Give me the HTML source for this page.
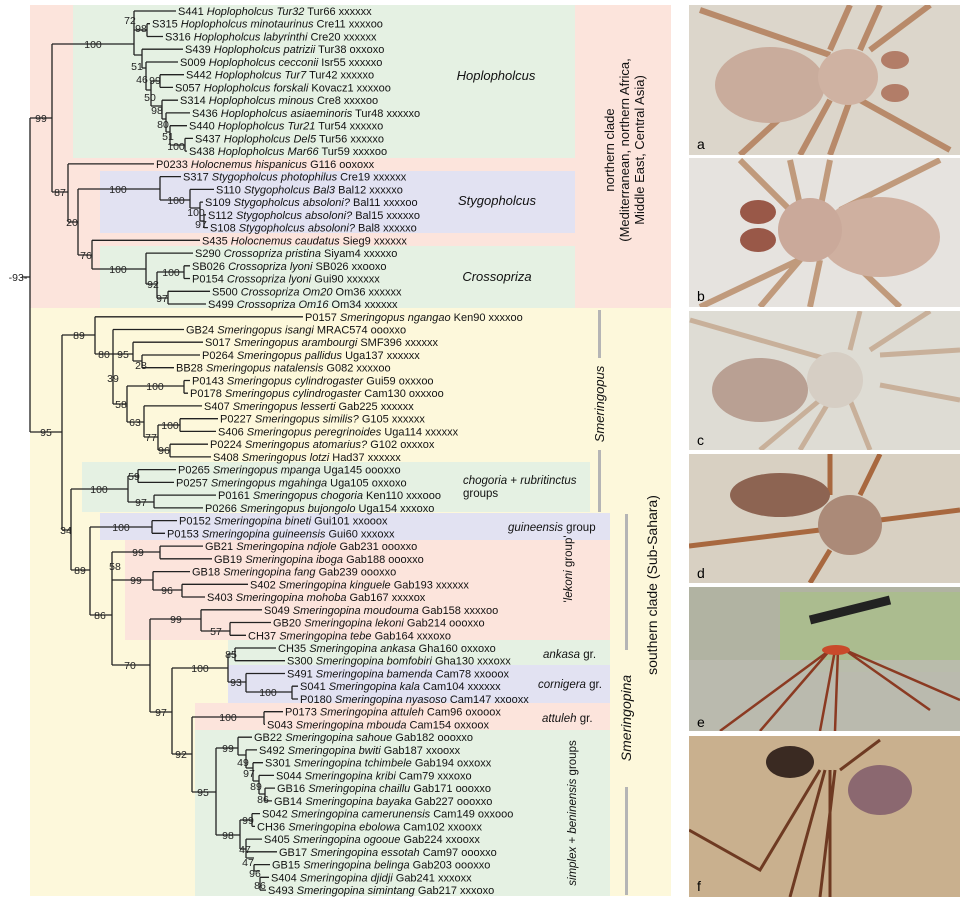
<!DOCTYPE html>
<html><head><meta charset="utf-8"><style>
html,body{margin:0;padding:0;background:#fff}
svg{display:block}
text{font-family:"Liberation Sans",Arial,sans-serif}
.t{font-size:11px;fill:#111}
.n{font-size:10.5px;fill:#222;text-anchor:middle}
.l{stroke:#222;stroke-width:1.3;fill:none}
</style></head><body>
<svg width="960" height="902" viewBox="0 0 960 902" xmlns="http://www.w3.org/2000/svg">
<!-- backgrounds -->
<rect x="30" y="5" width="641" height="303" fill="#fce4dc"/>
<rect x="73" y="5" width="502" height="153" fill="#e5f1e3"/>
<rect x="100" y="171" width="475" height="62" fill="#e2e2f2"/>
<rect x="100" y="246" width="475" height="62" fill="#e5f1e3"/>
<rect x="30" y="308" width="641" height="588" fill="#fdf8db"/>
<rect x="82" y="462" width="508" height="50" fill="#e5f1e3"/>
<rect x="100" y="513" width="510" height="27" fill="#e2e2f2"/>
<rect x="125" y="540" width="485" height="100" fill="#fce4dc"/>
<rect x="228" y="640" width="382" height="25" fill="#e5f1e3"/>
<rect x="228" y="665" width="382" height="38" fill="#e2e2f2"/>
<rect x="195" y="703" width="415" height="27" fill="#fce4dc"/>
<rect x="195" y="730" width="415" height="166" fill="#e5f1e3"/>
<!-- gray bars -->
<rect x="598" y="310" width="3" height="48" fill="#b5b5b5"/>
<rect x="598" y="450" width="3" height="62" fill="#b5b5b5"/>
<rect x="625" y="514" width="3" height="136" fill="#b5b5b5"/>
<rect x="625" y="787" width="3" height="108" fill="#b5b5b5"/>

<!-- tree lines -->
<path class="l" d="
M30 118V432 M22 277H30
M30 118H52 M52 44V192 M52 44H134
M134 11V55 M134 11H176 M134 30H147 M134 55H142
M147 23.7V36.5 M147 23.7H150 M147 36.5H163
M142 49.2V68 M142 49.2H183 M142 68H146
M146 62V90 M146 62H178 M146 90H151
M151 81V106 M151 81H160 M151 106H162
M160 74.7V87.4 M160 74.7H184 M160 87.4H173
M162 100.2V119 M162 100.2H178 M162 119H166
M166 112.9V132 M166 112.9H190 M166 132H170
M170 125.7V145 M170 125.7H187 M170 145H185
M185 138.4V151.1 M185 138.4H193 M185 151.1H187
M52 192H68 M68 164V222 M68 163.9H154 M68 222H78
M78 189V255 M78 189H160
M160 176.6V200 M160 176.6H181 M160 200H190
M190 189.4V208 M190 189.4H214 M190 208H200
M200 202.1V221 M200 202.1H203 M200 221H204
M204 214.8V227.6 M204 214.8H206 M204 227.6H208
M78 255H92 M92 240.3V269 M92 240.3H200 M92 269H146
M146 253.1V284 M146 253.1H193 M146 284H157
M157 272V298 M157 272H184 M157 298H168
M184 265.8V278.5 M184 265.8H190 M184 278.5H190
M168 291.3V304 M168 291.3H210 M168 304H206
M30 432H62 M62 335V530
M62 335H95 M95 316.8V354 M95 316.8H303 M95 354H113
M113 329.5V404 M113 329.5H184 M113 354H133
M133 342.2V361 M133 342.2H203 M133 361H142
M142 355V367.7 M142 355H200 M142 367.7H174
M113 404H127 M127 386V422 M127 386H184
M184 380.5V393.2 M184 380.5H190 M184 393.2H188
M127 422H144 M144 405.9V437 M144 405.9H202 M144 437H158
M158 425V450 M158 425H180 M180 418.7V431.4 M180 418.7H218 M180 431.4H216
M158 450H170 M170 444.2V456.9 M170 444.2H208 M170 456.9H211
M62 530H71 M71 489V570
M71 489H128 M128 476V502 M128 476H138
M138 469.6V482.4 M138 469.6H176 M138 482.4H174
M128 502H154 M154 495.1V507.9 M154 495.1H216 M154 507.9H203
M71 570H90 M90 527V615
M90 527H152 M152 520.6V533.3 M152 520.6H177 M152 533.3H165
M90 615H112 M112 552V665
M112 552H160 M160 546.1V558.8 M160 546.1H203 M160 558.8H212
M112 580H153 M153 571.6V590 M153 571.6H190 M153 590H182
M182 584.3V597 M182 584.3H248 M182 597H205
M112 665H150 M150 619V712
M150 619H201 M201 609.8V631 M201 609.8H262 M201 631H230
M230 622.5V635.3 M230 622.5H271 M230 635.3H246
M150 712H172 M172 668V754
M172 668H228 M228 654V682 M228 654H235
M235 648V660.7 M235 648H276 M235 660.7H285
M228 682H246 M246 673.5V692 M246 673.5H285 M246 692H292
M292 686.2V699 M292 686.2H298 M292 699H298
M172 754H192 M192 717V792
M192 717H264 M264 711.7V724.4 M264 711.7H283 M264 724.4H265
M192 792H216 M216 748V835
M216 748H238 M238 737.2V755 M238 737.2H252 M238 755H246
M246 749.9V768 M246 749.9H257 M246 768H253
M253 762.7V781 M253 762.7H263 M253 781H259
M259 775.4V794 M259 775.4H274 M259 794H265
M265 788.1V800.9 M265 788.1H275 M265 800.9H272
M216 835H240 M240 820V849
M240 820H252 M252 813.6V826.4 M252 813.6H260 M252 826.4H255
M240 849H246 M246 839.1V858 M246 839.1H262 M246 851.8H277 M246 858H254
M254 864.6V871 M254 864.6H270 M254 871H260
M260 877.3V890.1 M260 877.3H269 M260 890.1H266
"/>

<!-- node labels -->
<g class="n">
<text x="18" y="281">-93-</text>
<text x="41" y="122">99</text>
<text x="93" y="48">100</text>
<text x="130" y="24">72</text>
<text x="141" y="32">98</text>
<text x="137" y="70">51</text>
<text x="142" y="83">46</text>
<text x="155" y="84">99</text>
<text x="150" y="101">50</text>
<text x="157" y="114">98</text>
<text x="163" y="128">80</text>
<text x="168" y="140">51</text>
<text x="176" y="150">100</text>
<text x="60" y="196">87</text>
<text x="72" y="226">20</text>
<text x="118" y="193">100</text>
<text x="176" y="204">100</text>
<text x="196" y="216">100</text>
<text x="201" y="228">97</text>
<text x="86" y="259">76</text>
<text x="118" y="273">100</text>
<text x="153" y="288">92</text>
<text x="171" y="276">100</text>
<text x="162" y="302">97</text>
<text x="46" y="436">95</text>
<text x="79" y="339">89</text>
<text x="104" y="358">80</text>
<text x="123" y="358">95</text>
<text x="141" y="369">28</text>
<text x="113" y="382">39</text>
<text x="121" y="408">58</text>
<text x="155" y="390">100</text>
<text x="135" y="426">63</text>
<text x="151" y="441">77</text>
<text x="170" y="429">100</text>
<text x="164" y="454">96</text>
<text x="66" y="534">34</text>
<text x="99" y="493">100</text>
<text x="134" y="480">59</text>
<text x="141" y="506">97</text>
<text x="80" y="574">89</text>
<text x="121" y="531">100</text>
<text x="100" y="619">86</text>
<text x="115" y="570">58</text>
<text x="138" y="556">99</text>
<text x="136" y="584">99</text>
<text x="167" y="594">96</text>
<text x="130" y="669">70</text>
<text x="176" y="623">99</text>
<text x="216" y="635">57</text>
<text x="161" y="716">97</text>
<text x="200" y="672">100</text>
<text x="231" y="658">85</text>
<text x="236" y="686">93</text>
<text x="268" y="696">100</text>
<text x="181" y="758">92</text>
<text x="228" y="721">100</text>
<text x="203" y="796">95</text>
<text x="228" y="752">99</text>
<text x="243" y="766">49</text>
<text x="249" y="777">97</text>
<text x="256" y="790">89</text>
<text x="263" y="803">86</text>
<text x="228" y="839">98</text>
<text x="248" y="824">99</text>
<text x="245" y="853">47</text>
<text x="248" y="866">47</text>
<text x="255" y="877">96</text>
<text x="260" y="889">86</text>
</g>

<!-- tips -->
<g class="t">
<text x="178" y="15">S441 <tspan font-style="italic">Hoplopholcus Tur32</tspan> Tur66 xxxxxx</text>
<text x="152" y="27.7">S315 <tspan font-style="italic">Hoplopholcus minotaurinus</tspan> Cre11 xxxxoo</text>
<text x="165" y="40.5">S316 <tspan font-style="italic">Hoplopholcus labyrinthi</tspan> Cre20 xxxxxx</text>
<text x="185" y="53.2">S439 <tspan font-style="italic">Hoplopholcus patrizii</tspan> Tur38 oxxoxo</text>
<text x="180" y="66">S009 <tspan font-style="italic">Hoplopholcus cecconii</tspan> Isr55 xxxxxo</text>
<text x="186" y="78.7">S442 <tspan font-style="italic">Hoplopholcus Tur7</tspan> Tur42 xxxxxo</text>
<text x="175" y="91.4">S057 <tspan font-style="italic">Hoplopholcus forskali</tspan> Kovacz1 xxxxoo</text>
<text x="180" y="104.2">S314 <tspan font-style="italic">Hoplopholcus minous</tspan> Cre8 xxxxoo</text>
<text x="192" y="116.9">S436 <tspan font-style="italic">Hoplopholcus asiaeminoris</tspan> Tur48 xxxxxo</text>
<text x="189" y="129.7">S440 <tspan font-style="italic">Hoplopholcus Tur21</tspan> Tur54 xxxxxo</text>
<text x="195" y="142.4">S437 <tspan font-style="italic">Hoplopholcus Del5</tspan> Tur56 xxxxxo</text>
<text x="189" y="155.1">S438 <tspan font-style="italic">Hoplopholcus Mar66</tspan> Tur59 xxxxoo</text>
<text x="156" y="167.9">P0233 <tspan font-style="italic">Holocnemus hispanicus</tspan> G116 ooxoxx</text>
<text x="183" y="180.6">S317 <tspan font-style="italic">Stygopholcus photophilus</tspan> Cre19 xxxxxx</text>
<text x="216" y="193.4">S110 <tspan font-style="italic">Stygopholcus Bal3</tspan> Bal12 xxxxxo</text>
<text x="205" y="206.1">S109 <tspan font-style="italic">Stygopholcus absoloni?</tspan> Bal11 xxxxoo</text>
<text x="208" y="218.8">S112 <tspan font-style="italic">Stygopholcus absoloni?</tspan> Bal15 xxxxxo</text>
<text x="210" y="231.6">S108 <tspan font-style="italic">Stygopholcus absoloni?</tspan> Bal8 xxxxxo</text>
<text x="202" y="244.3">S435 <tspan font-style="italic">Holocnemus caudatus</tspan> Sieg9 xxxxxx</text>
<text x="195" y="257.1">S290 <tspan font-style="italic">Crossopriza pristina</tspan> Siyam4 xxxxxo</text>
<text x="192" y="269.8">SB026 <tspan font-style="italic">Crossopriza lyoni</tspan> SB026 xxooxo</text>
<text x="192" y="282.5">P0154 <tspan font-style="italic">Crossopriza lyoni</tspan> Gui90 xxxxxx</text>
<text x="212" y="295.3">S500 <tspan font-style="italic">Crossopriza Om20</tspan> Om36 xxxxxx</text>
<text x="208" y="308">S499 <tspan font-style="italic">Crossopriza Om16</tspan> Om34 xxxxxx</text>
<text x="305" y="320.8">P0157 <tspan font-style="italic">Smeringopus ngangao</tspan> Ken90 xxxxoo</text>
<text x="186" y="333.5">GB24 <tspan font-style="italic">Smeringopus isangi</tspan> MRAC574 oooxxo</text>
<text x="205" y="346.2">S017 <tspan font-style="italic">Smeringopus arambourgi</tspan> SMF396 xxxxxx</text>
<text x="202" y="359">P0264 <tspan font-style="italic">Smeringopus pallidus</tspan> Uga137 xxxxxx</text>
<text x="176" y="371.7">BB28 <tspan font-style="italic">Smeringopus natalensis</tspan> G082 xxxxoo</text>
<text x="192" y="384.5">P0143 <tspan font-style="italic">Smeringopus cylindrogaster</tspan> Gui59 oxxxoo</text>
<text x="190" y="397.2">P0178 <tspan font-style="italic">Smeringopus cylindrogaster</tspan> Cam130 oxxxoo</text>
<text x="204" y="409.9">S407 <tspan font-style="italic">Smeringopus lesserti</tspan> Gab225 xxxxxx</text>
<text x="220" y="422.7">P0227 <tspan font-style="italic">Smeringopus similis?</tspan> G105 xxxxxx</text>
<text x="218" y="435.4">S406 <tspan font-style="italic">Smeringopus peregrinoides</tspan> Uga114 xxxxxx</text>
<text x="210" y="448.2">P0224 <tspan font-style="italic">Smeringopus atomarius?</tspan> G102 oxxxox</text>
<text x="213" y="460.9">S408 <tspan font-style="italic">Smeringopus lotzi</tspan> Had37 xxxxxx</text>
<text x="178" y="473.6">P0265 <tspan font-style="italic">Smeringopus mpanga</tspan> Uga145 oooxxo</text>
<text x="176" y="486.4">P0257 <tspan font-style="italic">Smeringopus mgahinga</tspan> Uga105 oxxoxo</text>
<text x="218" y="499.1">P0161 <tspan font-style="italic">Smeringopus chogoria</tspan> Ken110 xxxooo</text>
<text x="205" y="511.9">P0266 <tspan font-style="italic">Smeringopus bujongolo</tspan> Uga154 xxxoxo</text>
<text x="179" y="524.6">P0152 <tspan font-style="italic">Smeringopina bineti</tspan> Gui101 xxooox</text>
<text x="167" y="537.3">P0153 <tspan font-style="italic">Smeringopina guineensis</tspan> Gui60 xxxoxx</text>
<text x="205" y="550.1">GB21 <tspan font-style="italic">Smeringopina ndjole</tspan> Gab231 oooxxo</text>
<text x="214" y="562.8">GB19 <tspan font-style="italic">Smeringopina iboga</tspan> Gab188 oooxxo</text>
<text x="192" y="575.6">GB18 <tspan font-style="italic">Smeringopina fang</tspan> Gab239 oooxxo</text>
<text x="250" y="588.3">S402 <tspan font-style="italic">Smeringopina kinguele</tspan> Gab193 xxxxxx</text>
<text x="207" y="601">S403 <tspan font-style="italic">Smeringopina mohoba</tspan> Gab167 xxxxox</text>
<text x="264" y="613.8">S049 <tspan font-style="italic">Smeringopina moudouma</tspan> Gab158 xxxxoo</text>
<text x="273" y="626.5">GB20 <tspan font-style="italic">Smeringopina lekoni</tspan> Gab214 oooxxo</text>
<text x="248" y="639.3">CH37 <tspan font-style="italic">Smeringopina tebe</tspan> Gab164 xxxoxo</text>
<text x="278" y="652">CH35 <tspan font-style="italic">Smeringopina ankasa</tspan> Gha160 oxxoxo</text>
<text x="287" y="664.7">S300 <tspan font-style="italic">Smeringopina bomfobiri</tspan> Gha130 xxxoxx</text>
<text x="287" y="677.5">S491 <tspan font-style="italic">Smeringopina bamenda</tspan> Cam78 xxooox</text>
<text x="300" y="690.2">S041 <tspan font-style="italic">Smeringopina kala</tspan> Cam104 xxxxxx</text>
<text x="300" y="703">P0180 <tspan font-style="italic">Smeringopina nyasoso</tspan> Cam147 xxooxx</text>
<text x="285" y="715.7">P0173 <tspan font-style="italic">Smeringopina attuleh</tspan> Cam96 oxooox</text>
<text x="267" y="728.4">S043 <tspan font-style="italic">Smeringopina mbouda</tspan> Cam154 oxxoox</text>
<text x="254" y="741.2">GB22 <tspan font-style="italic">Smeringopina sahoue</tspan> Gab182 oooxxo</text>
<text x="259" y="753.9">S492 <tspan font-style="italic">Smeringopina bwiti</tspan> Gab187 xxooxx</text>
<text x="265" y="766.7">S301 <tspan font-style="italic">Smeringopina tchimbele</tspan> Gab194 oxxoxx</text>
<text x="276" y="779.4">S044 <tspan font-style="italic">Smeringopina kribi</tspan> Cam79 xxxoxo</text>
<text x="277" y="792.1">GB16 <tspan font-style="italic">Smeringopina chaillu</tspan> Gab171 oooxxo</text>
<text x="274" y="804.9">GB14 <tspan font-style="italic">Smeringopina bayaka</tspan> Gab227 oooxxo</text>
<text x="262" y="817.6">S042 <tspan font-style="italic">Smeringopina camerunensis</tspan> Cam149 oxxooo</text>
<text x="257" y="830.4">CH36 <tspan font-style="italic">Smeringopina ebolowa</tspan> Cam102 xxooxx</text>
<text x="264" y="843.1">S405 <tspan font-style="italic">Smeringopina ogooue</tspan> Gab224 xxooxx</text>
<text x="279" y="855.8">GB17 <tspan font-style="italic">Smeringopina essotah</tspan> Cam97 oooxxo</text>
<text x="272" y="868.6">GB15 <tspan font-style="italic">Smeringopina belinga</tspan> Gab203 oooxxo</text>
<text x="271" y="881.3">S404 <tspan font-style="italic">Smeringopina djidji</tspan> Gab241 xxxoxx</text>
<text x="268" y="894.1">S493 <tspan font-style="italic">Smeringopina simintang</tspan> Gab217 xxxoxo</text>
</g>

<!-- group labels -->
<g font-size="13" fill="#111" font-style="italic" text-anchor="middle">
<text x="496" y="80">Hoplopholcus</text>
<text x="497" y="205">Stygopholcus</text>
<text x="497" y="281">Crossopriza</text>
</g>
<g font-size="13" fill="#111" text-anchor="middle">
<text transform="translate(614,150) rotate(-90)">northern clade</text>
<text transform="translate(629,150) rotate(-90)">(Mediterranean, northern Africa,</text>
<text transform="translate(644,150) rotate(-90)">Middle East, Central Asia)</text>
<text transform="translate(657,585) rotate(-90)" font-size="14">southern clade (Sub-Sahara)</text>
<text transform="translate(604,404) rotate(-90)" font-style="italic">Smeringopus</text>
<text transform="translate(631,718) rotate(-90)" font-style="italic" font-size="14">Smeringopina</text>
</g>
<g font-size="11.5" fill="#111">
<text x="463" y="484"><tspan font-style="italic">chogoria</tspan> + <tspan font-style="italic">rubritinctus</tspan></text>
<text x="463" y="497">groups</text>
<text x="508" y="531"><tspan font-style="italic">guineensis</tspan> group</text>
<text x="543" y="658"><tspan font-style="italic">ankasa</tspan> gr.</text>
<text x="538" y="688"><tspan font-style="italic">cornigera</tspan> gr.</text>
<text x="542" y="722"><tspan font-style="italic">attuleh</tspan> gr.</text>
<text transform="translate(572,569) rotate(-90)" text-anchor="middle">'<tspan font-style="italic">lekoni</tspan> group'</text>
<text transform="translate(576,813) rotate(-90)" text-anchor="middle"><tspan font-style="italic">simplex</tspan> + <tspan font-style="italic">beninensis</tspan> groups</text>
</g>

<!-- photos -->
<defs><clipPath id="ca"><rect x="689" y="5" width="271" height="150"/></clipPath>
<clipPath id="cb"><rect x="689" y="158" width="271" height="149"/></clipPath>
<clipPath id="cc"><rect x="689" y="311" width="271" height="139"/></clipPath>
<clipPath id="cd"><rect x="689" y="454" width="271" height="129"/></clipPath>
<clipPath id="ce"><rect x="689" y="587" width="271" height="144"/></clipPath>
<clipPath id="cf"><rect x="689" y="736" width="271" height="161"/></clipPath></defs>
<g clip-path="url(#ca)"><rect x="689" y="5" width="271" height="150" fill="#dcd6cb"/>
<g stroke="#b88a6a" stroke-width="6" fill="none"><path d="M700 10L830 55M830 50L850 5M860 50L880 5M870 50L930 5M860 100L950 150M830 100L800 155M850 100L830 155M800 100L740 155"/></g>
<ellipse cx="770" cy="85" rx="55" ry="38" fill="#c9ac9c"/><ellipse cx="848" cy="77" rx="30" ry="28" fill="#cfb2a2"/><ellipse cx="895" cy="60" rx="14" ry="9" fill="#b27d68"/><ellipse cx="895" cy="93" rx="14" ry="9" fill="#b27d68"/>
<text x="697" y="149" font-size="14" fill="#000">a</text></g>
<g clip-path="url(#cb)"><rect x="689" y="158" width="271" height="149" fill="#e6e3df"/>
<g stroke="#c09a7c" stroke-width="6" fill="none"><path d="M740 160L790 210M790 160L800 205M830 160L820 210M940 160L840 210M820 250L700 307M800 260L760 307M820 260L810 307M840 250L900 307"/></g>
<ellipse cx="880" cy="237" rx="60" ry="40" fill="#cfb0a0"/><ellipse cx="810" cy="230" rx="32" ry="32" fill="#caa99a"/><ellipse cx="758" cy="212" rx="18" ry="12" fill="#995848"/><ellipse cx="758" cy="240" rx="18" ry="12" fill="#995848"/>
<text x="697" y="301" font-size="14" fill="#000">b</text></g>
<g clip-path="url(#cc)"><rect x="689" y="311" width="271" height="139" fill="#dedcd4"/>
<g stroke="#c8b09a" stroke-width="5" fill="none"><path d="M690 320L830 360M850 350L860 311M870 350L930 311M880 355L960 350M880 385L960 400M850 400L870 450M830 400L800 450M820 400L760 450"/></g>
<ellipse cx="760" cy="390" rx="48" ry="32" fill="#b9a093"/><ellipse cx="835" cy="380" rx="28" ry="28" fill="#d6cec4"/>
<text x="697" y="445" font-size="14" fill="#000">c</text></g>
<g clip-path="url(#cd)"><rect x="689" y="454" width="271" height="129" fill="#d8d0c2"/>
<g stroke="#a8683f" stroke-width="5" fill="none"><path d="M689 546L820 530M830 495L830 454M860 495L880 454M880 520L960 510M830 550L810 583"/></g>
<ellipse cx="780" cy="495" rx="50" ry="22" fill="#8d6452"/><ellipse cx="850" cy="525" rx="32" ry="30" fill="#ab8a78"/>
<text x="697" y="578" font-size="14" fill="#000">d</text></g>
<g clip-path="url(#ce)"><rect x="689" y="587" width="271" height="144" fill="#b1b3a2"/>
<rect x="780" y="592" width="180" height="80" fill="#a8c088" opacity=".7"/><rect x="689" y="660" width="271" height="71" fill="#bdbbb2" opacity=".8"/>
<path d="M810 620Q850 610 890 600" stroke="#222" stroke-width="9" fill="none"/>
<g stroke="#8b3a22" stroke-width="2.5" fill="none"><path d="M830 650L720 731M830 650L760 731M835 650L820 731M838 650L835 731M845 650L930 710M845 650L960 700"/></g>
<ellipse cx="836" cy="650" rx="14" ry="5" fill="#c94a2a"/>
<text x="697" y="727" font-size="14" fill="#000">e</text></g>
<g clip-path="url(#cf)"><rect x="689" y="736" width="271" height="161" fill="#c9b08e"/>
<ellipse cx="790" cy="762" rx="24" ry="16" fill="#3a2a22"/><ellipse cx="880" cy="790" rx="32" ry="25" fill="#8b6870"/>
<g stroke="#6e3a22" stroke-width="3" fill="none"><path d="M820 770L760 870L689 830M825 770L790 897M830 770L830 897M835 770L820 897M840 770L880 740"/></g>
<text x="697" y="891" font-size="14" fill="#000">f</text></g>
</svg>
</body></html>
